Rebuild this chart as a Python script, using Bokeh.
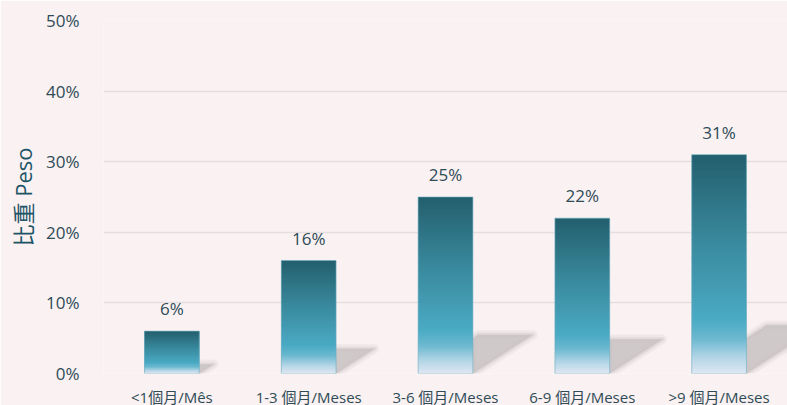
from bokeh.plotting import figure
from bokeh.models import Range1d, FixedTicker, PrintfTickFormatter, ColumnDataSource
from bokeh.embed import file_html
from bokeh.resources import INLINE
from bokeh.core.properties import value

categories = ["<1個月/Mês", "1-3 個月/Meses", "3-6 個月/Meses", "6-9 個月/Meses", ">9 個月/Meses"]
values = [6, 16, 25, 22, 31]
y_ticks = [0, 10, 20, 30, 40, 50]

FONT = "Open Sans, Noto Sans CJK TC, sans-serif"
BG = "#faf1f2"
TEXT = "#2e4b56"

# gradient stops, t from bar bottom (0) to bar top (1)
stops = [(0.0, (0xdf, 0xe6, 0xf3)), (0.07, (0xb5, 0xd6, 0xe6)), (0.16, (0x6b, 0xb8, 0xd0)),
         (0.25, (0x4a, 0xaa, 0xc4)), (0.59, (0x3a, 0x8a, 0x9e)), (1.0, (0x23, 0x5f, 0x6e))]

def grad(t):
    for (t0, c0), (t1, c1) in zip(stops[:-1], stops[1:]):
        if t0 <= t <= t1:
            f = (t - t0) / (t1 - t0)
            c = [round(a + (b - a) * f) for a, b in zip(c0, c1)]
            return "#%02x%02x%02x" % tuple(c)
    return "#235f6e"

p = figure(frame_width=684, frame_height=353, output_backend="svg", toolbar_location=None,
           x_range=Range1d(0, len(categories)), y_range=Range1d(0, 50),
           min_border_left=103, min_border_right=0, min_border_top=20, min_border_bottom=30)
p.background_fill_color = BG
p.border_fill_color = BG
p.outline_line_color = None

BW = 0.4
xs = [i + 0.5 for i in range(len(categories))]

# shadows
px_per_x = 684 / len(categories)
px_per_y = 353 / 50
sh_xs, sh_ys = [], []
for x, v in zip(xs, values):
    xr = x + BW / 2
    h = 0.22 * v
    dx = 1.55 * h * px_per_y / px_per_x
    if dx > BW:
        pts = [(xr, 0), (xr, h * BW / dx), (xr - BW + dx, h), (xr + dx, h)]
    else:
        pts = [(xr, 0), (xr, h), (xr + dx, h)]
    sh_xs.append([a for a, b in pts])
    sh_ys.append([b for a, b in pts])
shsrc = ColumnDataSource(dict(xs=sh_xs, ys=sh_ys))
p.patches("xs", "ys", source=shsrc, fill_color=None, line_color="#d2cccd", line_alpha=0.25, line_width=9, line_join="round")
p.patches("xs", "ys", source=shsrc, fill_color=None, line_color="#ccc6c7", line_alpha=0.4, line_width=4, line_join="round")
p.patches("xs", "ys", source=shsrc, fill_color="#c8c2c3", fill_alpha=0.85, line_color=None)

# gradient bars built from overlapping slices
N = 90
L, R, B, T, C = [], [], [], [], []
for x, v in zip(xs, values):
    for k in range(N):
        L.append(x - BW / 2)
        R.append(x + BW / 2)
        B.append(v * k / N)
        T.append(min(v, v * (k + 1) / N + 0.12))
        C.append(grad((k + 0.5) / N))
p.quad(left=L, right=R, bottom=B, top=T, fill_color=C, line_color=None)
p.vbar(x=xs, top=values, width=BW, fill_color=None, line_color="#6aaebf", line_alpha=0.6, line_width=1)

# value labels
p.text(x=xs, y=values, text=[f"{v}%" for v in values], text_align="center", text_baseline="bottom",
       y_offset=-11, text_font=value(FONT), text_font_size="17px", text_color=TEXT)

p.xaxis.ticker = FixedTicker(ticks=xs)
p.xaxis.major_label_overrides = {x: c for x, c in zip(xs, categories)}
p.yaxis.ticker = FixedTicker(ticks=y_ticks)
p.yaxis.formatter = PrintfTickFormatter(format="%d%%")

for ax in (p.xaxis[0], p.yaxis[0]):
    ax.axis_line_color = None
    ax.major_tick_line_color = None
    ax.minor_tick_line_color = None
    ax.major_label_text_font = FONT
    ax.major_label_text_color = TEXT
p.xaxis.major_label_text_font_size = "15px"
p.xaxis.major_label_standoff = 7
p.yaxis.major_label_text_font_size = "17px"
p.yaxis.major_label_standoff = 18
p.yaxis.axis_label = "比重 Peso"
p.yaxis.axis_label_text_font = FONT
p.yaxis.axis_label_text_font_size = "22px"
p.yaxis.axis_label_text_font_style = "normal"
p.yaxis.axis_label_text_color = "#1d5566"
p.yaxis.axis_label_standoff = 5

p.xgrid.grid_line_color = None
p.ygrid.grid_line_color = "#e4dfdf"
p.ygrid.grid_line_width = 1.5

html = file_html(p, INLINE)
html = html.replace("<body>", f"<body style=\"background:{BG}\">", 1)
open("out.html", "w").write(html)
